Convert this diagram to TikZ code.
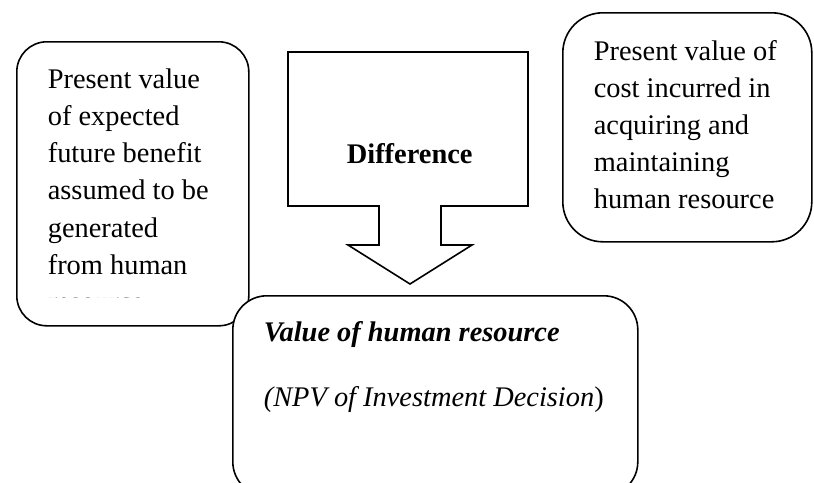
\documentclass[tikz,border=0pt]{standalone}
\usepackage{fontspec}
\setmainfont{Liberation Serif}
\begin{document}
\begin{tikzpicture}[x=1pt,y=-1pt,line width=1.6pt,
  box/.style={draw,rounded corners=30pt,inner sep=0pt,anchor=north west},
  txt/.style={font=\fontsize{28.4}{37.2}\selectfont,inner sep=0pt,anchor=base west,align=left}]
\useasboundingbox (0,0) rectangle (814,482);
% left box
\node[box,minimum width=232pt,minimum height=284pt] (leftbox) at (16,41) {};
\begin{scope}
\clip (16,41) rectangle (248,297);
\node[txt] (lefttext) at (47,311.5) {Present value\\of expected\\future benefit\\assumed to be\\generated\\from human\\resource};
\end{scope}
% right box
\node[box,rounded corners=40pt,minimum width=249pt,minimum height=229pt] (rightbox) at (562,12) {};
\node[txt] (righttext) at (593,208.8) {Present value of\\cost incurred in\\acquiring and\\maintaining\\human resource};
% arrow
\draw[line join=miter] (288,52) -- (528,52) -- (528,206) -- (441,206) -- (441,245) -- (472,245)
  -- (410,284) -- (348,245) -- (379,245) -- (379,206) -- (288,206) -- cycle;
\node[font=\fontsize{28.4}{37.2}\selectfont\bfseries,inner sep=0pt,anchor=base] (diff) at (409.7,163.3) {Difference};
% bottom box
\node[box,fill=white,rounded corners=34pt,minimum width=405pt,minimum height=200pt] (valuebox) at (232,295) {};
\node[txt,font=\fontsize{28.4}{37.2}\selectfont\bfseries\itshape] (valuetext) at (263,341.7) {Value of human resource};
\node[txt] (npvtext) at (263,406.7) {\textit{(NPV of Investment Decision})};
\end{tikzpicture}
\end{document}
